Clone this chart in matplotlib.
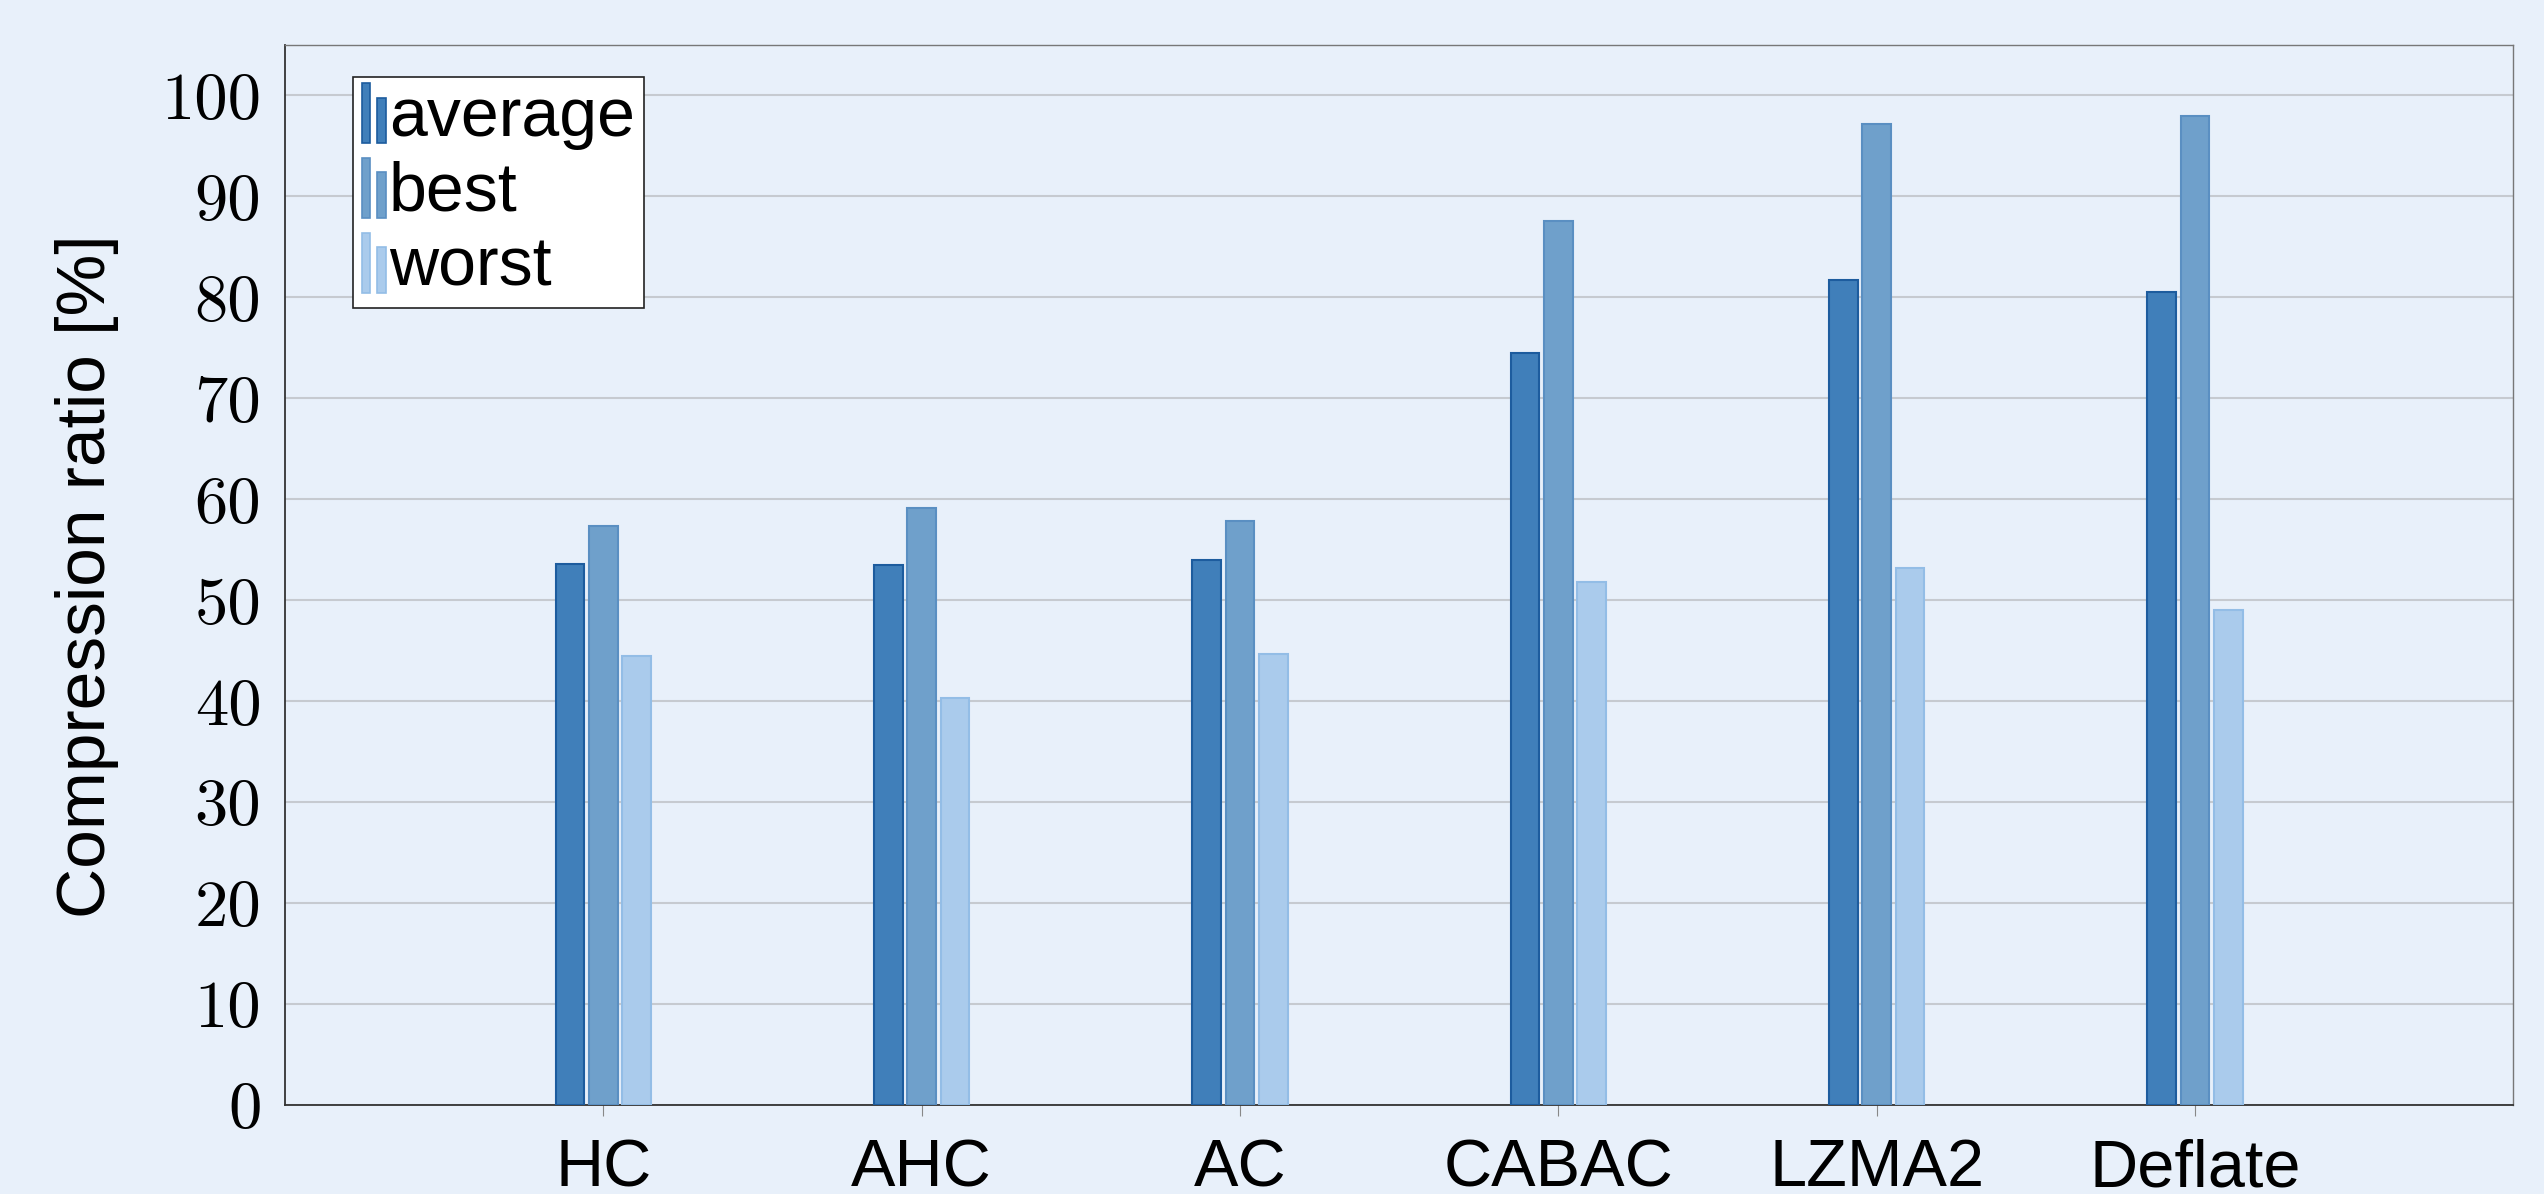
import numpy as np
import matplotlib.pyplot as plt
from matplotlib.patches import Rectangle
from matplotlib.legend_handler import HandlerBase

methods = ['HC', 'AHC', 'AC', 'CABAC', 'LZMA2', 'Deflate']
average = [53.6, 53.5, 54.0, 74.5, 81.7, 80.5]
best = [57.4, 59.1, 57.9, 87.6, 97.2, 98.0]
worst = [44.5, 40.3, 44.7, 51.8, 53.2, 49.0]

fills = ['#407fba', '#6fa0cb', '#aacbec']
edges = ['#1d5c9e', '#5a8fc2', '#93bde6']
bg = '#e8f0fa'

# pgfplots style legend image: two thin bars
class TwoBars(HandlerBase):
    def create_artists(self, legend, orig, xd, yd, w, h, fs, trans):
        fc = orig.get_facecolor()
        ec = orig.get_edgecolor()
        bw = w * 0.36
        r1 = Rectangle((xd, yd - 0.15 * h), bw, h * 1.25, fc=fc, ec=ec, lw=1.2, transform=trans)
        r2 = Rectangle((xd + w - bw, yd - 0.15 * h), bw, h * 0.95, fc=fc, ec=ec, lw=1.2, transform=trans)
        return [r1, r2]

fig = plt.figure(figsize=(25.44, 11.94), dpi=100, facecolor=bg)
ax = fig.add_axes([0.112, 0.0745, 0.876, 0.8878])
ax.set_facecolor(bg)

x = np.arange(len(methods))
step = 0.105
bw = 0.09
bars = []
for k, (vals, lab) in enumerate(zip([average, best, worst], ['average', 'best', 'worst'])):
    b = ax.bar(x + (k - 1) * step, vals, bw, color=fills[k], edgecolor=edges[k],
               linewidth=1.5, label=lab, zorder=3)
    bars.append(b)

ax.set_xlim(-1, 6)
ax.set_ylim(0, 105)
ax.set_yticks(np.arange(0, 101, 10))
ax.set_xticks(x)
ax.set_xticklabels(methods, fontsize=48, fontfamily='Liberation Sans')
for t in ax.get_yticklabels():
    t.set_fontfamily('cmr10')
    t.set_fontsize(48)
ax.tick_params(axis='y', length=0, pad=17)
ax.tick_params(axis='x', length=8, width=0.8, color='#888888', pad=16)
ax.grid(axis='y', color='#c6cad0', linewidth=1.5, zorder=0)
for s in ['left', 'bottom']:
    ax.spines[s].set_color('#333333')
    ax.spines[s].set_linewidth(1.3)
for s in ['top', 'right']:
    ax.spines[s].set_color('#777777')
    ax.spines[s].set_linewidth(1.0)

fig.text(0.0342, 0.5176, 'Compression ratio [%]', rotation=90, ha='center', va='center',
         fontsize=50, fontfamily='Liberation Sans')

leg = ax.legend(handles=[b[0] for b in bars], labels=['average', 'best', 'worst'],
                handler_map={Rectangle: TwoBars()},
                loc='upper left', bbox_to_anchor=(0.0305, 0.970), borderaxespad=0,
                prop={'family': 'Liberation Sans', 'size': 49},
                handlelength=0.35, handletextpad=0.05, labelspacing=0.16,
                borderpad=0.13, fancybox=False, framealpha=1, edgecolor='#222222')
leg.get_frame().set_linewidth(1.2)
leg.set_zorder(5)

fig.savefig('out.png', dpi=100, facecolor=bg)
